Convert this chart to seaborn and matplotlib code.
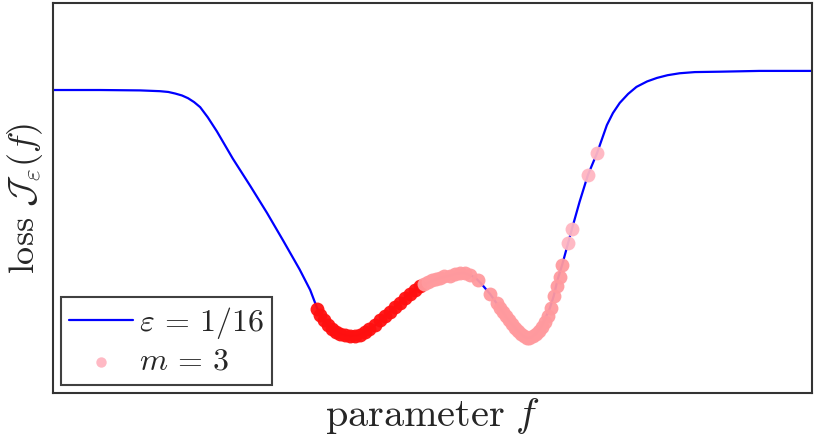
import numpy as np
import pandas as pd
import matplotlib
matplotlib.use("Agg")
import matplotlib.pyplot as plt
import seaborn as sns

# curve J_eps(f)
f_curve = [0.00, 0.62, 1.15, 1.28, 1.41, 1.52, 1.61, 1.70, 1.78, 1.86, 1.94, 2.04,
           2.16, 2.37, 2.60, 2.82, 3.03, 3.25, 3.39, 3.48, 3.54, 3.62, 3.72, 3.81,
           3.91, 4.01, 4.11, 4.22, 4.44, 4.66, 4.87, 5.10, 5.23, 5.32, 5.41, 5.49,
           5.57, 5.65, 5.76, 5.89, 6.02, 6.13, 6.19, 6.25, 6.30, 6.36, 6.43, 6.49,
           6.55, 6.60, 6.65, 6.71, 6.79, 6.84, 6.94, 7.05, 7.17, 7.30, 7.38, 7.47,
           7.58, 7.69, 7.83, 7.96, 8.10, 8.26, 8.46, 8.79, 9.31, 10.00]
J_curve = [7.77, 7.77, 7.76, 7.75, 7.74, 7.72, 7.68, 7.63, 7.56, 7.46, 7.33, 7.07,
           6.71, 6.01, 5.31, 4.62, 3.92, 3.17, 2.64, 2.18, 1.95, 1.74, 1.59, 1.50,
           1.46, 1.47, 1.56, 1.69, 2.08, 2.49, 2.77, 2.95, 3.01, 3.06, 3.08, 3.03,
           2.95, 2.79, 2.54, 2.18, 1.82, 1.59, 1.46, 1.41, 1.42, 1.51, 1.67, 1.92,
           2.18, 2.49, 2.90, 3.28, 3.85, 4.21, 4.90, 5.59, 6.15, 6.87, 7.18, 7.44,
           7.67, 7.85, 7.99, 8.08, 8.15, 8.20, 8.23, 8.24, 8.26, 8.26]

# samples, m = 3 (three shades)
f_red = [3.48, 3.52, 3.57, 3.62, 3.68, 3.73, 3.78, 3.85, 3.91, 3.98, 4.04, 4.11,
         4.17, 4.24, 4.31, 4.37, 4.44, 4.51, 4.57, 4.64, 4.70, 4.77, 4.84]
J_red = [2.15, 2.01, 1.87, 1.74, 1.65, 1.57, 1.51, 1.48, 1.46, 1.46, 1.49, 1.56,
         1.64, 1.74, 1.86, 1.97, 2.08, 2.20, 2.31, 2.44, 2.55, 2.65, 2.74]
f_mid = [4.89, 4.94, 4.99, 5.05, 5.10, 5.16, 5.23, 5.30, 5.36, 5.43, 5.49, 5.60,
         5.76, 5.85, 5.89, 5.93, 5.97, 6.01, 6.05, 6.09, 6.13, 6.17, 6.21, 6.25,
         6.28, 6.32, 6.36, 6.40, 6.44, 6.48, 6.52, 6.56, 6.60, 6.64, 6.68, 6.71]
J_mid = [2.79, 2.84, 2.89, 2.93, 2.95, 2.99, 3.01, 3.05, 3.08, 3.07, 3.03, 2.90,
         2.54, 2.30, 2.18, 2.07, 1.97, 1.86, 1.76, 1.67, 1.59, 1.52, 1.45, 1.41,
         1.42, 1.45, 1.51, 1.60, 1.69, 1.82, 1.97, 2.18, 2.49, 2.75, 2.98, 3.28]
f_pink = [6.79, 6.84, 7.05, 7.17]
J_pink = [3.85, 4.21, 5.59, 6.15]

sns.set_style("white")
plt.rcParams["mathtext.fontset"] = "cm"
plt.rcParams["font.family"] = ["DejaVu Serif"]

fig = plt.figure(figsize=(8.15, 4.40), dpi=100)
ax = fig.add_axes([0.065, 0.107, 0.931, 0.886])

sns.lineplot(x=f_curve, y=J_curve, ax=ax, color="#0000ff", lw=1.6,
             label=r"$\varepsilon\,=\,1/16$", zorder=2)
sns.scatterplot(x=f_red, y=J_red, ax=ax, color="#ff1010", s=100, linewidth=0,
                alpha=0.95, zorder=3)
sns.scatterplot(x=f_mid, y=J_mid, ax=ax, color="#ff9a9e", s=100, linewidth=0,
                alpha=0.95, zorder=3)
sns.scatterplot(x=f_pink, y=J_pink, ax=ax, color="#ffb6c1", s=100, linewidth=0,
                alpha=0.95, zorder=3, label=r"$m\,=\,3$")

ax.set_xlim(0, 10)
ax.set_ylim(0, 10)
ax.set_xticks([])
ax.set_yticks([])
ax.set_xlabel(r"$\mathrm{parameter}\ f$", fontsize=29, labelpad=2)
ax.set_ylabel(r"$\mathrm{loss}\ \mathcal{J}_\varepsilon(f)$", fontsize=26, labelpad=6)
for sp in ax.spines.values():
    sp.set_color("#333333")
    sp.set_linewidth(1.5)

leg = ax.legend(loc="lower left", fontsize=23, fancybox=False, framealpha=1,
                edgecolor="#404040", borderaxespad=0.25, handlelength=2.0,
                handletextpad=0.2, borderpad=0.25, labelspacing=0.15,
                markerscale=0.75)
leg.get_frame().set_linewidth(1.5)

fig.savefig("out.png", dpi=100)
